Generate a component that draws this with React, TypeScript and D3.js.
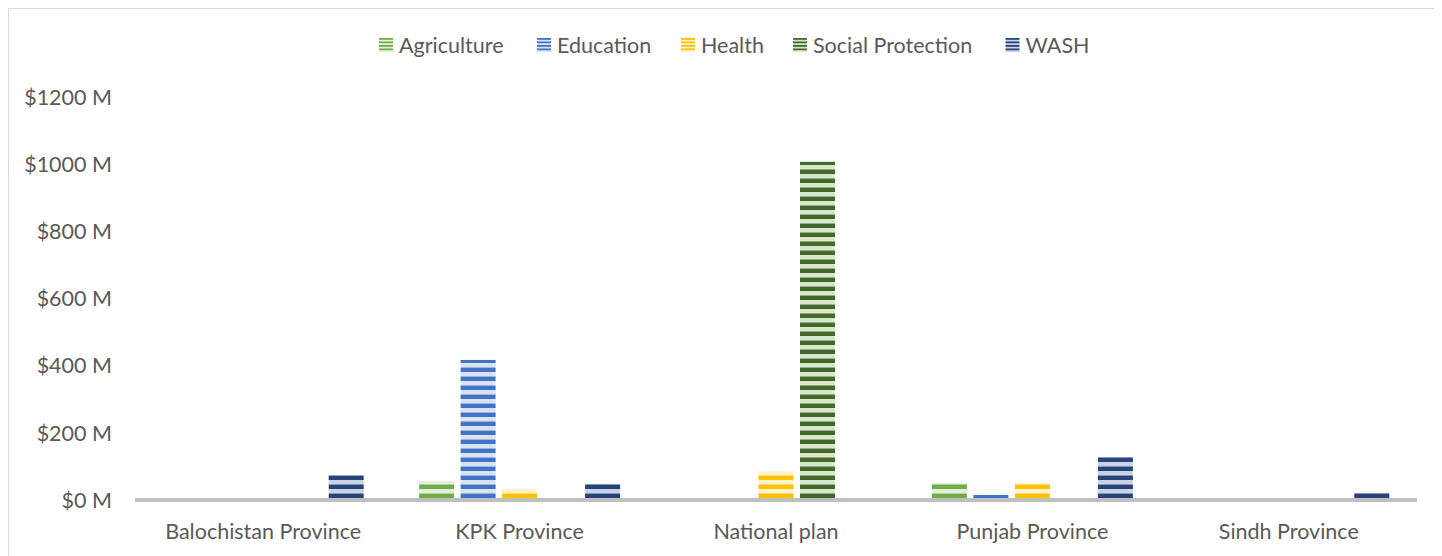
import React, { useEffect } from "react";
import * as d3 from "d3";

const categories = ["Balochistan Province", "KPK Province", "National plan", "Punjab Province", "Sindh Province"];
const seriesNames = ["Agriculture", "Education", "Health", "Social Protection", "WASH"];
const agriculture = [1, 57, 0, 51, 0];
const education = [0, 417, 0, 15, 0];
const health = [1, 33, 86, 51, 0];
const socialProtection = [0, 0, 1007, 0, 0];
const wash = [74, 48, 0, 128, 21];
const yTicks = [0, 200, 400, 600, 800, 1000, 1200];
const darkColors = ["#70ad47", "#4472c4", "#ffc000", "#43682b", "#264478"];
const lightColors = ["#e2efda", "#dae3f3", "#fff2cc", "#d8e6cc", "#c9d2e7"];

const seriesValues = [agriculture, education, health, socialProtection, wash];

const W = 1434;
const H = 548;
const FONT = "Lato, 'Open Sans', sans-serif";
const TEXT = "#595959";
const FS = 21.5;

export default function App() {
  useEffect(() => {
    document.documentElement.style.overflow = "hidden";
  }, []);

  const x0 = d3.scaleBand<string>().domain(categories).range([127, 1409]).paddingInner(0).paddingOuter(0);
  const bw = x0.bandwidth();
  const outer = 27.7;
  const x1 = d3
    .scaleBand<string>()
    .domain(seriesNames)
    .range([outer, bw - outer])
    .paddingInner(6.5 / 41.5)
    .paddingOuter(0);
  const y = d3.scaleLinear().domain([0, 1200]).range([492, 89]);
  const base = y(0) - 2;

  const legendX = [371, 529, 673, 785, 997.5];
  const legendCy = 37;

  return (
    <svg width={W} height={H} style={{ display: "block" }} fontFamily={FONT}>
      <defs>
        {seriesNames.map((s, i) => (
          <pattern
            key={s}
            id={`pat${i}`}
            patternUnits="userSpaceOnUse"
            x={0}
            y={base}
            width={10}
            height={9}
          >
            <rect x={0} y={0} width={10} height={4.5} fill={lightColors[i]} />
            <rect x={0} y={4.5} width={10} height={4.5} fill={darkColors[i]} />
          </pattern>
        ))}
        {seriesNames.map((s, i) => (
          <pattern
            key={s + "l"}
            id={`lpat${i}`}
            patternUnits="userSpaceOnUse"
            x={0}
            y={legendCy - 7}
            width={10}
            height={3.5}
          >
            <rect x={0} y={0} width={10} height={1.75} fill={darkColors[i]} />
            <rect x={0} y={1.75} width={10} height={1.75} fill={lightColors[i]} />
          </pattern>
        ))}
      </defs>
      <rect x={0.5} y={0.5} width={W + 20} height={H + 20} fill="#ffffff" stroke="#d9d9d9" strokeWidth={1} />

      {/* legend */}
      {seriesNames.map((s, i) => (
        <g key={s}>
          <rect x={legendX[i]} y={legendCy - 7} width={14} height={14} fill={`url(#lpat${i})`} />
          <text x={legendX[i] + 20} y={legendCy} dy="0.36em" fontSize={FS} fill={TEXT}>
            {s}
          </text>
        </g>
      ))}

      {/* y tick labels */}
      {yTicks.map((t) => (
        <text key={t} x={104} y={y(t)} dy="0.36em" textAnchor="end" fontSize={FS} fill={TEXT}>
          {`$${t} M`}
        </text>
      ))}

      {/* bars */}
      {categories.map((c, ci) => (
        <g key={c}>
          {seriesNames.map((s, si) => {
            const v = seriesValues[si][ci];
            const top = y(v);
            const h = y(0) - top;
            if (v <= 0) return null;
            return (
              <rect
                key={s}
                x={(x0(c) as number) + (x1(s) as number)}
                y={top}
                width={x1.bandwidth()}
                height={h}
                fill={`url(#pat${si})`}
              />
            );
          })}
        </g>
      ))}

      {/* x axis line */}
      <rect x={127} y={y(0) - 2} width={1409 - 127} height={4} fill="#bfbfbf" />

      {/* category labels */}
      {categories.map((c) => (
        <text
          key={c}
          x={(x0(c) as number) + bw / 2}
          y={531}
          textAnchor="middle"
          fontSize={FS}
          fill={TEXT}
        >
          {c}
        </text>
      ))}
    </svg>
  );
}
